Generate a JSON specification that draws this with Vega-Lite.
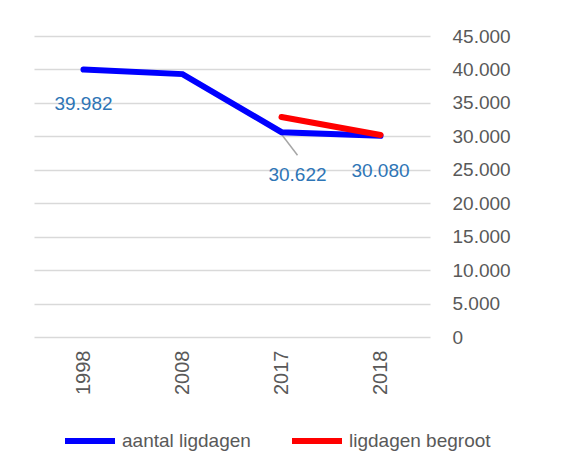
{
  "$schema": "https://vega.github.io/schema/vega-lite/v6.json",
  "width": 396,
  "height": 301,
  "padding": {"left": 34, "top": 27, "right": 0, "bottom": 0},
  "background": "white",
  "config": {
    "font": "Liberation Sans",
    "locale": {"number": {"decimal": ",", "thousands": ".", "grouping": [3], "currency": ["€", ""]}},
    "view": {"stroke": null}
  },
  "data": {
    "values": [
      {"year": "1998", "series": "aantal ligdagen", "value": 39982},
      {"year": "2008", "series": "aantal ligdagen", "value": 39300},
      {"year": "2017", "series": "aantal ligdagen", "value": 30622},
      {"year": "2018", "series": "aantal ligdagen", "value": 30080},
      {"year": "2017", "series": "ligdagen begroot", "value": 32900},
      {"year": "2018", "series": "ligdagen begroot", "value": 30200}
    ]
  },
  "encoding": {
    "x": {
      "field": "year", "type": "ordinal",
      "scale": {"type": "band", "paddingInner": 0, "paddingOuter": 0},
      "axis": {"title": null, "labelAngle": -90, "labelFontSize": 20, "labelColor": "#595959", "ticks": false, "domain": false, "grid": false, "labelPadding": 13}
    },
    "y": {
      "field": "value", "type": "quantitative",
      "scale": {"domain": [0, 45000], "nice": false},
      "axis": {"orient": "right", "title": null, "values": [0,5000,10000,15000,20000,25000,30000,35000,40000,45000], "format": ",.0f", "labelFontSize": 19, "labelColor": "#595959", "ticks": false, "domain": false, "gridColor": "#D9D9D9", "gridWidth": 1.5, "labelPadding": 22, "labelAlign": "left"}
    }
  },
  "layer": [
    {
      "transform": [{"filter": "datum.year == '2017' && datum.series == 'aantal ligdagen'"}],
      "mark": {"type": "rule", "color": "#A6A6A6", "strokeWidth": 1.5, "yOffset": 2, "x2Offset": 16, "y2Offset": 23},
      "encoding": {
        "x": {"field": "year", "type": "ordinal", "bandPosition": 0.5},
        "x2": {"field": "year", "bandPosition": 0.5},
        "y2": {"field": "value"}
      }
    },
    {
      "mark": {"type": "line", "strokeWidth": 6, "strokeCap": "round"},
      "encoding": {
        "color": {
          "field": "series", "type": "nominal",
          "scale": {"domain": ["aantal ligdagen", "ligdagen begroot"], "range": ["#0000FF", "#FF0000"]},
          "legend": {"title": null, "orient": "none", "legendX": 28, "legendY": 377, "direction": "horizontal", "symbolType": "stroke", "symbolSize": 2500, "symbolStrokeWidth": 6, "labelFontSize": 19, "labelColor": "#595959", "columnPadding": 29, "labelOffset": 4}
        }
      }
    },
    {
      "transform": [{"filter": "datum.year == '1998' && datum.series == 'aantal ligdagen'"}],
      "mark": {"type": "text", "dy": 34, "fontSize": 19, "color": "#2E75B6"},
      "encoding": {"text": {"field": "value", "type": "quantitative", "format": ","}}
    },
    {
      "transform": [{"filter": "datum.year == '2017' && datum.series == 'aantal ligdagen'"}],
      "mark": {"type": "text", "dy": 43, "dx": 16, "fontSize": 19, "color": "#2E75B6"},
      "encoding": {"text": {"field": "value", "type": "quantitative", "format": ","}}
    },
    {
      "transform": [{"filter": "datum.year == '2018' && datum.series == 'aantal ligdagen'"}],
      "mark": {"type": "text", "dy": 35, "fontSize": 19, "color": "#2E75B6"},
      "encoding": {"text": {"field": "value", "type": "quantitative", "format": ","}}
    }
  ]
}
